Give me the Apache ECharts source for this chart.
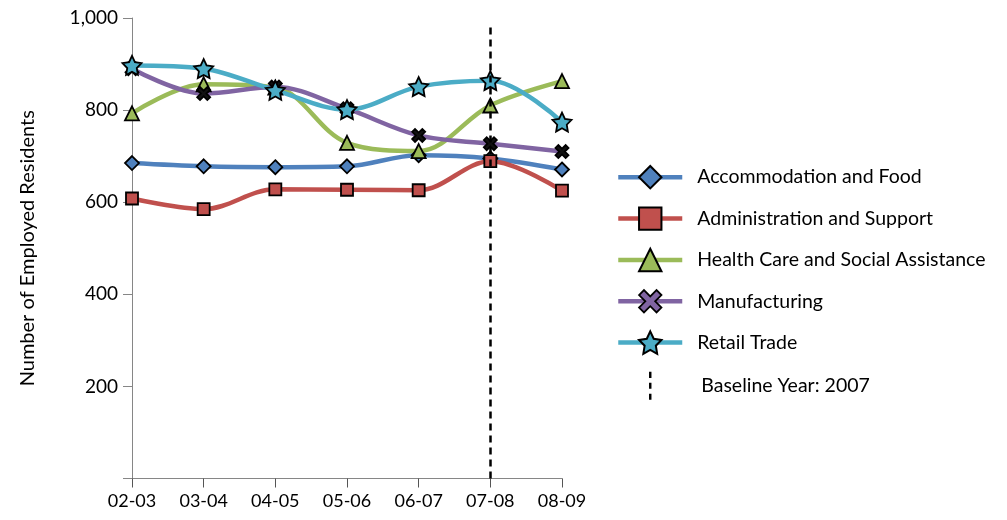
<!DOCTYPE html>
<html>
<head>
<meta charset="utf-8">
<script src="https://cdn.jsdelivr.net/npm/echarts@6/dist/echarts.min.js"></script>
<style>
html,body{margin:0;padding:0;background:#fff;}
#chart{width:1007px;height:520px;}
</style>
</head>
<body>
<div id="chart"></div>
<script>
var categories = ['02-03','03-04','04-05','05-06','06-07','07-08','08-09'];
var accommodation = [685, 678, 676, 678, 702, 695, 671];
var administration = [608, 585, 628, 627, 626, 689, 625];
var healthCare = [793, 856, 849, 729, 711, 810, 863];
var manufacturing = [890, 836, 850, 803, 745, 727, 710];
var retail = [897, 890, 843, 801, 851, 864, 774];
var baselineCategory = '07-08';

var FONT = 'Lato';
var starPath = 'path://M10,0 L12.94,5.96 L19.51,6.91 L14.76,11.55 L15.88,18.09 L10,15 L4.12,18.09 L5.25,11.55 L0.49,6.91 L7.06,5.96 Z';
var xPath = 'path://M0,2.2 L2.2,0 L5,2.8 L7.8,0 L10,2.2 L7.2,5 L10,7.8 L7.8,10 L5,7.2 L2.2,10 L0,7.8 L2.8,5 Z';
var dashPath = 'path://M0,0 h2 v5 h-2 Z M0,9 h2 v5 h-2 Z M0,18 h2 v5 h-2 Z';

function mk(name, data, color, symbol, size, fill) {
  return {
    name: name, type: 'line', data: data, smooth: 0.35,
    symbol: symbol, symbolSize: size, showAllSymbol: true,
    lineStyle: { color: color, width: 4.5 },
    itemStyle: { color: fill || color, borderColor: '#000', borderWidth: 1.8 },
    emphasis: { disabled: true }
  };
}

var chart = echarts.init(document.getElementById('chart'), null, { renderer: 'canvas' });
chart.setOption({
  animation: false,
  backgroundColor: '#fff',
  textStyle: { fontFamily: FONT },
  grid: { left: 132, right: 445, top: 18, bottom: 41.5, containLabel: false },
  legend: {
    orient: 'vertical', left: 616, top: 165, padding: 0,
    itemWidth: 64, itemHeight: 28, itemGap: 17,
    lineStyle: { width: 4.5 },
    textStyle: { fontFamily: FONT, fontSize: 19.5, color: '#000', padding: [0, 0, 0, 10] },
    data: [
      { name: 'Accommodation and Food' },
      { name: 'Administration and Support' },
      { name: 'Health Care and Social Assistance' },
      { name: 'Manufacturing', itemStyle: { color: '#8064A2', borderColor: '#000', borderWidth: 1.8 } },
      { name: 'Retail Trade' },
      { name: 'Baseline Year: 2007', icon: dashPath, itemStyle: { color: '#000' }, textStyle: { padding: [0, 0, 0, 14] } }
    ]
  },
  xAxis: {
    type: 'category', data: categories, boundaryGap: false,
    axisLine: { lineStyle: { color: '#868686', width: 1 } },
    axisTick: { alignWithLabel: true, length: 9, lineStyle: { color: '#555' } },
    axisLabel: { color: '#000', fontSize: 18, fontFamily: FONT, margin: 14 },
    splitLine: { show: false }
  },
  yAxis: {
    type: 'value', min: 0, max: 1000, interval: 200,
    name: 'Number of Employed Residents', nameLocation: 'middle', nameGap: 94,
    nameTextStyle: { fontSize: 20, color: '#000', fontFamily: FONT },
    axisLine: { show: true, lineStyle: { color: '#868686', width: 1 } },
    axisTick: { show: true, length: 9, lineStyle: { color: '#868686' } },
    axisLabel: {
      color: '#000', fontSize: 19, fontFamily: FONT, margin: 14,
      formatter: function (v) { return v === 0 ? '' : v.toLocaleString('en-US'); }
    },
    splitLine: { show: false }
  },
  series: [
    {
      name: 'Baseline Year: 2007', type: 'line', data: [],
      symbol: 'none',
      itemStyle: { color: '#000' },
      lineStyle: { color: '#000', width: 2.5, type: [7, 5] },
      markLine: {
        silent: true, symbol: 'none', label: { show: false },
        lineStyle: { color: '#000', width: 2.5, type: [7, 5] },
        data: [[{ coord: [baselineCategory, 0] }, { coord: [baselineCategory, 988] }]]
      }
    },
    mk('Accommodation and Food', accommodation, '#4F81BD', 'diamond', 14),
    mk('Administration and Support', administration, '#C0504D', 'rect', 12),
    mk('Health Care and Social Assistance', healthCare, '#9BBB59', 'triangle', 14),
    mk('Manufacturing', manufacturing, '#8064A2', xPath, 13, '#111'),
    mk('Retail Trade', retail, '#4BACC6', starPath, 19)
  ]
});
</script>
</body>
</html>
